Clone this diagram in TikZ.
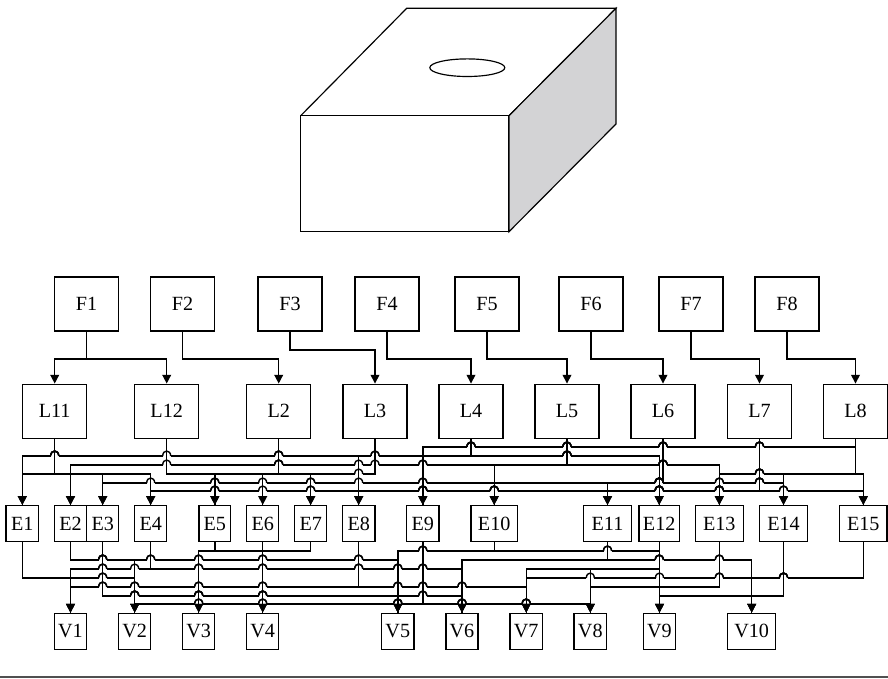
\documentclass[tikz,border=0pt]{standalone}
\usepackage{fontspec}
\setmainfont{Liberation Serif}
\usetikzlibrary{arrows.meta}
\definecolor{sidegray}{HTML}{D3D3D5}
\definecolor{rulegray}{HTML}{505050}
\tikzstyle{blk}=[draw, line width=1.25pt, inner sep=0pt, font=\fontsize{17.2}{19}\selectfont]
\tikzstyle{wire}=[line width=1.2pt]
\tikzstyle{arr}=[wire, -{Triangle[length=7.5pt,width=7.5pt]}]

% a bridge of a wire over a crossing drop
\newcommand\hop[2]{%
  \fill[white] (#1-4,#2-1.3) rectangle (#1+4,#2+1.3);
  \draw[wire] (#1-4,#2) .. controls (#1-4,#2-6.6) and (#1+4,#2-6.6) .. (#1+4,#2);}

% #1 wires, #2 bottom of the upper row, #3 top of the lower row
\newcommand\hops[3]{%
  \foreach \src/\tgt/\lvl in #1 {
    \edef\xs{\csname px\src\endcsname}\edef\xt{\csname px\tgt\endcsname}%
    \edef\yy{\csname ly\lvl\endcsname}%
    \pgfmathsetmacro\xa{min(\xs,\xt)+0.5}
    \pgfmathsetmacro\xb{max(\xs,\xt)-0.5}
    \foreach \srcb/\tgtb/\lvlb in #1 {
      \edef\yd{\csname ly\lvlb\endcsname}%
      \edef\xv{\csname px\srcb\endcsname}%
      \pgfmathtruncatemacro\ok{and(and(\xv>\xa,\xv<\xb),and(\yy>#2+0.5,\yy<\yd-0.5))}
      \ifnum\ok=1 \hop{\xv}{\yy}\fi
      \ifcsname cn-\src-\tgtb\endcsname\else
        \edef\xv{\csname px\tgtb\endcsname}%
        \pgfmathtruncatemacro\ok{and(and(\xv>\xa,\xv<\xb),and(\yy>\yd+0.5,\yy<#3-0.5))}
        \ifnum\ok=1 \hop{\xv}{\yy}\fi
      \fi
    }
  }}

% loop -> edge
\def\wiresA{L11/E1/d, L11/E2/d, L11/E3/d, L11/E4/d, L12/E5/d, L2/E5/d, L2/E6/d, L2/E7/d, L3/E7/d,
  L4/E1/b, L4/E8/b, L4/E9/b, L4/E12/b, L5/E2/c, L5/E10/c, L5/E12/c, L5/E13/c,
  L6/E3/e, L6/E10/e, L6/E11/e, L6/E14/e, L7/E4/f, L7/E8/f, L7/E11/f, L7/E15/f,
  L8/E9/a, L8/E13/d, L8/E14/d, L8/E15/d}
% edge -> vertex
\def\wiresB{E1/V1/4, E1/V2/4, E2/V2/2, E2/V5/2, E3/V5/6, E3/V6/6, E4/V6/3, E4/V1/3,
  E5/V3/1, E6/V3/1, E6/V4/1, E7/V4/1, E8/V1/5, E8/V7/5, E9/V2/7, E9/V8/7,
  E10/V5/1, E10/V9/1, E11/V6/2, E11/V10/2, E12/V7/3, E12/V8/3, E13/V8/5, E13/V9/5,
  E14/V9/6, E14/V10/6, E15/V10/4, E15/V7/4}

\begin{document}
\begin{tikzpicture}[x=0.03cm, y=-0.03cm]
\useasboundingbox (0,0) rectangle (888,679);

% the block with the hole on top
\draw[line width=1pt] (300.7,115.7) rectangle (509,231.7);
\draw[line width=1pt] (300.7,115.7) -- (406.7,8.3) -- (616,8.3) -- (509,115.7);
\filldraw[fill=sidegray, line width=1pt] (509,115.7) -- (616,8.3) -- (616,124) -- (509,231.7) -- cycle;
\draw[line width=1pt] (467.3,67.7) ellipse [x radius=37.5, y radius=8.8];

% faces, loops, edges, vertices
\foreach \n/\x in {F1/86.5,F2/182.5,F3/290,F4/387,F5/487,F6/591,F7/691,F8/787}
  \node[blk, minimum width=64*0.03cm, minimum height=54*0.03cm] (\n) at (\x,304) {\n};
\foreach \n/\x in {L11/54.7,L12/166.7,L2/278.7,L3/375,L4/471,L5/567,L6/663,L7/759.5,L8/855.5} {
  \node[blk, minimum width=64*0.03cm, minimum height=54*0.03cm] (\n) at (\x,411.3) {\n};
  \expandafter\xdef\csname px\n\endcsname{\x}}
\foreach \n/\x/\w in {E1/22.3/32.7,E2/70.5/32.4,E3/102.7/32,E4/150.7/32,E5/214.8/31.7,
    E6/262.7/32,E7/310.7/32,E8/358.7/32.7,E9/422.8/32.3,E10/494.2/46.3,E11/607.5/48.4,
    E12/659.2/40.3,E13/719.3/48,E14/783.5/48.4,E15/863.3/47.3} {
  \node[blk, minimum width=\w*0.03cm, minimum height=36*0.03cm] (\n) at (\x,523.7) {\n};
  \expandafter\xdef\csname px\n\endcsname{\x}}
\foreach \n/\x/\w in {V1/70.5/32.4,V2/134.7/32,V3/198.7/32,V4/262.7/32,V5/397.8/32.3,
    V6/462/32,V7/526.2/32.3,V8/590.3/32.7,V9/659.5/32.4,V10/751.7/48} {
  \node[blk, minimum width=\w*0.03cm, minimum height=36*0.03cm] (\n) at (\x,631.3) {\n};
  \expandafter\xdef\csname px\n\endcsname{\x}}

% wiring levels
\coordinate (lf) at (0,359);
\coordinate (lg) at (0,350);
\foreach \l/\y in {a/447,b/456,c/465,d/474,e/483,f/491,1/551,2/560,3/569,4/578,5/587,6/596,7/604} {
  \coordinate (lv\l) at (0,\y);
  \expandafter\xdef\csname ly\l\endcsname{\y}}

% face -> loop
\foreach \f/\l/\k in {F1/L11/lf,F1/L12/lf,F2/L2/lf,F3/L3/lg,F4/L4/lf,F5/L5/lf,F6/L6/lf,F7/L7/lf,F8/L8/lf}
  \draw[arr] (\f.south) |- (\l.north |- \k) -- (\l.north);

\foreach \src/\tgt/\lvl in \wiresA {
  \expandafter\gdef\csname cn-\src-\tgt\endcsname{}
  \draw[wire] (\src.south) -- (\src.south |- lv\lvl) -| (\tgt.north);}
\foreach \src/\tgt/\lvl in \wiresB {
  \expandafter\gdef\csname cn-\src-\tgt\endcsname{}
  \draw[wire] (\src.south) -- (\src.south |- lv\lvl) -| (\tgt.north);}

\hops{\wiresA}{438.3}{505.7}
\hops{\wiresB}{541.7}{613.3}

% drops are drawn last so they run through the bridges
\foreach \src/\tgt/\lvl in \wiresA {
  \draw[wire] (\src.south) -- (\src.south |- lv\lvl);
  \draw[arr] (\tgt.north |- lv\lvl) -- (\tgt.north);}
\foreach \src/\tgt/\lvl in \wiresB {
  \draw[wire] (\src.south) -- (\src.south |- lv\lvl);
  \draw[arr] (\tgt.north |- lv\lvl) -- (\tgt.north);}

\draw[rulegray, line width=1.2pt] (0,677) -- (888,677);
\end{tikzpicture}
\end{document}
